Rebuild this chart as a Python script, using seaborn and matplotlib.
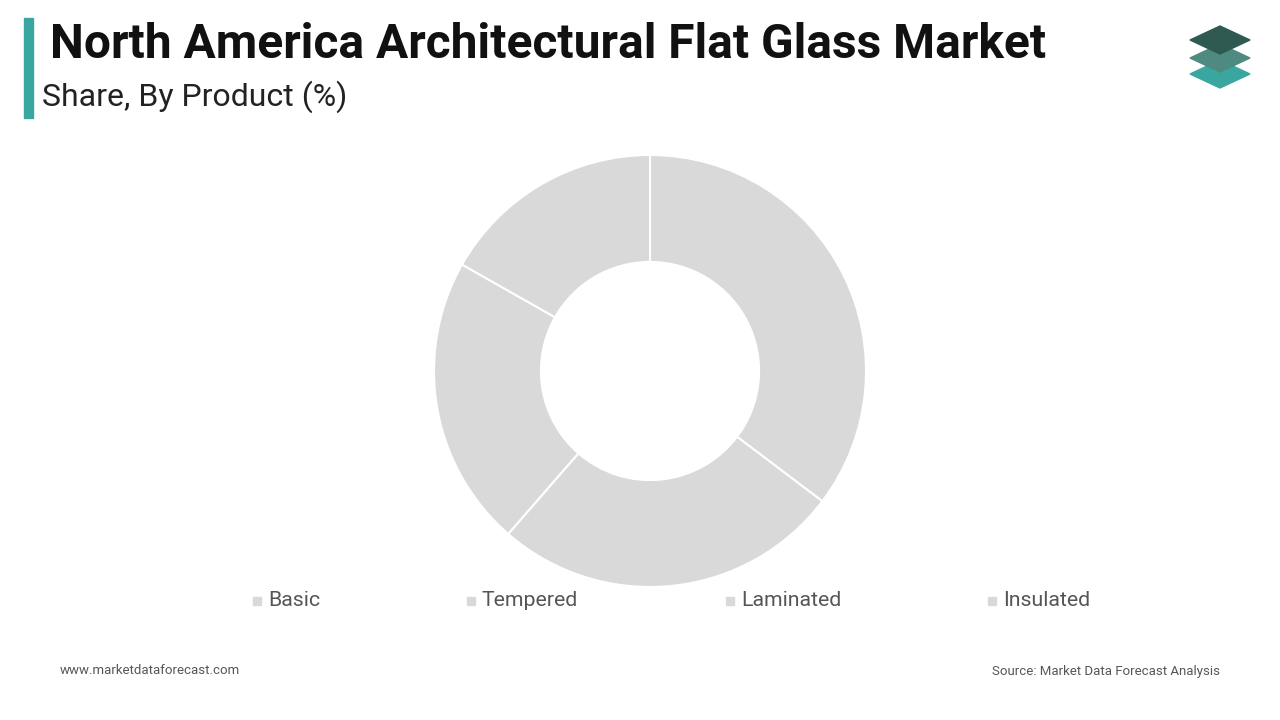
import matplotlib
matplotlib.use("Agg")
import matplotlib.pyplot as plt
import seaborn as sns
from matplotlib.patches import Polygon, Rectangle

categories = ["Basic", "Tempered", "Laminated", "Insulated"]
shares = [35.3, 26.1, 21.8, 16.8]
colors = ["#d9d9d9"] * 4

sns.set_theme(style="white")
plt.rcParams["font.family"] = "Roboto"
fig = plt.figure(figsize=(12.8, 7.2), dpi=100)
fig.patch.set_facecolor("white")

W, H = 1280, 720
ax = fig.add_axes([434 / W, (720 - 587) / H, 432 / W, 432 / H])
ax.pie(shares, colors=colors, startangle=90, counterclock=False, radius=1,
       wedgeprops=dict(width=0.495, edgecolor="white", linewidth=1.5))
ax.set_xlim(-1, 1)
ax.set_ylim(-1, 1)
ax.set_aspect("equal")
ax.axis("off")

# title bar
fig.patches.append(Rectangle((24 / W, 1 - 118 / H), 9 / W, 100 / H, transform=fig.transFigure,
                             color="#3aa6a0"))
fig.text(50 / W, 1 - 45 / H, "North America Architectural Flat Glass Market", fontsize=34.5,
         fontweight="bold", color="#111111", va="center")
fig.text(42 / W, 1 - 97 / H, "Share, By Product (%)", fontsize=23, color="#222222", va="center")

# legend
lx = [257, 471, 730, 992]
for x, c, col in zip(lx, categories, colors):
    fig.patches.append(Rectangle(((x - 4) / W, 1 - 605 / H), 8 / W, 8 / H,
                                 transform=fig.transFigure, color=col))
    fig.text((x + 11) / W, 1 - 601 / H, c, fontsize=15.3, color="#555555", va="center")

# footer
fig.text(60 / W, 1 - 671 / H, "www.marketdataforecast.com", fontsize=9.5, color="#555555", va="center")
fig.text(1220 / W, 1 - 671 / H, "Source: Market Data Forecast Analysis", fontsize=9.5,
         color="#555555", va="center", ha="right")

# logo
def dia(cy, col):
    pts = [(1190, cy), (1220, cy - 14), (1250, cy), (1220, cy + 14)]
    fig.patches.append(Polygon([(x / W, 1 - y / H) for x, y in pts], closed=True,
                               transform=fig.transFigure, color=col))
dia(74, "#3aa6a0")
dia(58, "#4e8a80")
dia(40, "#2f5a52")

fig.savefig("out.png", dpi=100)
